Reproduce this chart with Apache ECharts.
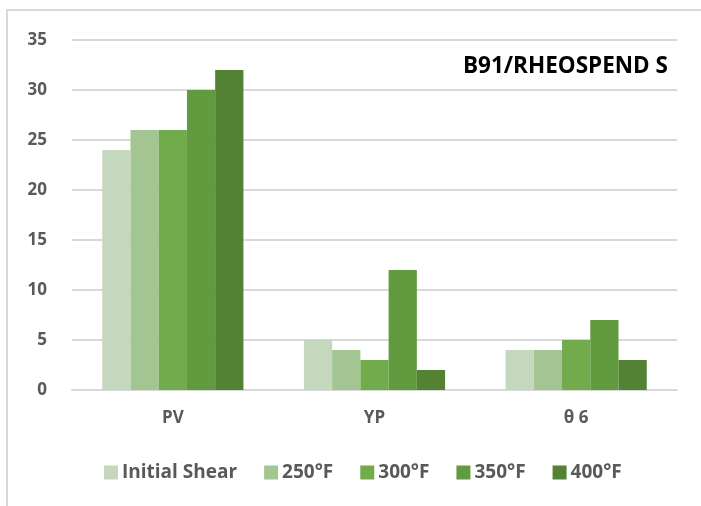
<!DOCTYPE html>
<html>
<head>
<meta charset="utf-8">
<script src="https://cdn.jsdelivr.net/npm/echarts@6/dist/echarts.min.js"></script>
<style>
  html, body { margin: 0; padding: 0; background: #fff; }
  #main { width: 701px; height: 506px; }
</style>
</head>
<body>
<div id="main"></div>
<script>
// data
const categories = ['PV', 'YP', 'θ 6'];
const seriesNames = ['Initial Shear', '250°F', '300°F', '350°F', '400°F'];
const initialShear = [24, 5, 4];
const f250 = [26, 4, 4];
const f300 = [26, 3, 5];
const f350 = [30, 12, 7];
const f400 = [32, 2, 3];
const yTicks = [0, 5, 10, 15, 20, 25, 30, 35];

const colors = ['#c5d8bd', '#a3c591', '#72ab4b', '#629a3f', '#548235'];
const values = [initialShear, f250, f300, f350, f400];
const font = '"Open Sans"';

const chart = echarts.init(document.getElementById('main'));

const option = {
  animation: false,
  graphic: [
    {
      type: 'rect',
      shape: { x: 7, y: 10, width: 720, height: 520 },
      style: { fill: 'none', stroke: '#d9d9d9', lineWidth: 2 }
    },
    {
      type: 'text',
      right: 33,
      top: 55,
      style: {
        text: 'B91/RHEOSPEND S',
        fill: '#000',
        font: 'bold 22.5px ' + font
      }
    }
  ],
  legend: {
    bottom: 19,
    left: 99,
    itemWidth: 14,
    itemHeight: 14,
    itemGap: 27,
    icon: 'rect',
    textStyle: { color: '#595959', fontSize: 19, fontWeight: 'bold', fontFamily: font, padding: [0, 0, 0, -1] },
    data: seriesNames
  },
  grid: { left: 72, right: 24, top: 40, bottom: 116 },
  xAxis: {
    type: 'category',
    data: categories,
    axisTick: { show: false },
    axisLine: { lineStyle: { color: '#d9d9d9', width: 2 } },
    axisLabel: { color: '#595959', fontSize: 17, fontWeight: 'bold', fontFamily: font, margin: 20 }
  },
  yAxis: {
    type: 'value',
    min: yTicks[0],
    max: yTicks[yTicks.length - 1],
    interval: 5,
    axisLine: { show: false },
    axisTick: { show: false },
    splitLine: { lineStyle: { color: '#d9d9d9', width: 2 } },
    axisLabel: { color: '#595959', fontSize: 17, fontWeight: 'bold', fontFamily: font, margin: 25 }
  },
  series: seriesNames.map((name, i) => ({
    name: name,
    type: 'bar',
    data: values[i],
    barGap: '0%',
    barCategoryGap: '30%',
    itemStyle: { color: colors[i] }
  }))
};

chart.setOption(option);
</script>
</body>
</html>
